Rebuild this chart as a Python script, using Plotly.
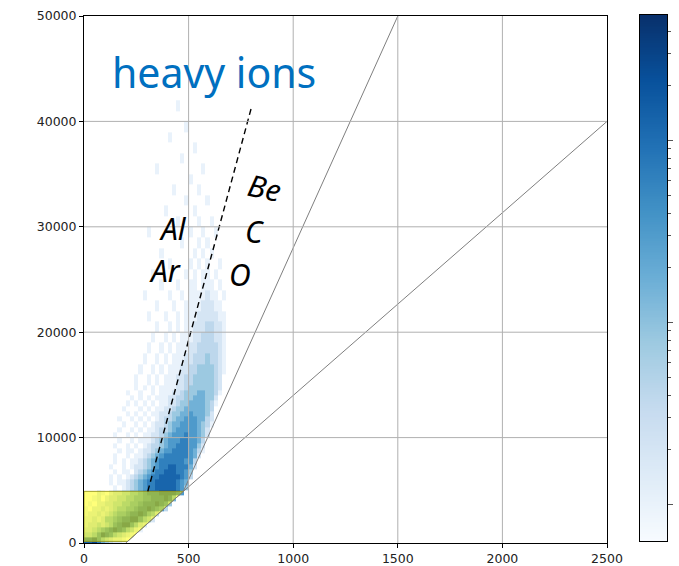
import numpy as np
import plotly.graph_objects as go
import plotly.colors as pc

# ---- 2D histogram of the heavy-ion population -------------------------------
# bin edges (ADC units); finer y bins in the dense low part
x_edges = list(range(0, 901, 20))
y_edges = list(range(0, 15001, 500)) + list(range(16000, 42001, 1000))

# one string per y row (bottom row first), columns grouped by 5 for readability
# '.' = empty bin, digit d -> log10(count) = 0.3 * (d - 1)
rows = [
    "88975 43221",
    "44579 87543 21",
    "33456 78987 5421",
    "23343 45789 97532",
    "22323 55678 89975 42",
    "12232 34566 78898 653",
    "1.223 23455 66788 98763",
    ".1.22 33445 56678 88987 4",
    "..12. 23344 55667 78889 85",
    "...21 .2334 45567 88899 9986",
    "..... ..1.1 23456 77888 88764",
    "..... .1.11 23456 77888 88765",
    "..... .1.1. 12345 67788 88876 3",
    "..... ..1.1 1.234 56778 88776 4",
    "..... .1..1 .1223 45677 88777 52",
    "..... ..1.1 .1123 45677 77776 63",
    "..... ..1.. 1.112 34567 77777 652",
    "..... ...1. 11.12 23456 67777 6531",
    "..... ..1.. 1.1.1 23345 66777 6642",
    "..... ...1. .1.11 12345 66677 6653",
    "..... ..1.. 1.1.1 12234 56667 66542",
    "..... ...1. .1.1. 11233 45666 66542",
    "..... ....1 ..1.1 .1223 45566 66543 1",
    "..... ...1. .1.1. 1.123 34556 66553 2",
    "..... ..... 1.1.1 .1122 34455 65554 2",
    "..... ....1 ...1. 1.112 23445 55554 3",
    "..... ..... 1.1.1 .1.11 22344 55554 31",
    "..... ..... .1.1. 1.111 22334 45554 42",
    "..... ..... 1..1. .1.11 12234 44554 431",
    "..... ..... ..1.1 .1.11 11223 44444 432",
    "..... ..... ..1.. 1.1.1 11223 34444 432",
    "..... ..... ...1. .1.1. 11122 33444 4321",
    "..... ..... ....1 ..1.1 .1112 23334 3321",
    "..... ..... ..... 1..1. 1.111 22333 3321",
    "..... ..... ..... .1..1 .1.11 12233 3221",
    "..... ..... ..... ..1.. 1.1.1 12223 3221",
    "..... ..... ..... 1...1 ..1.1 11222 2211",
    "..... ..... ..... ..1.. .1..1 11122 211",
    "..... ..... ....1 ..... 1..1. 11112 11.1",
    "..... ..... ..... ...1. ..1.. 11.11 1.1",
    "..... ..... ..... .1... ....1 .1.11 .1",
    "..... ..... ..... ..... 1.... 1.1.1 ..1",
    "..... ..... ..... ...1. ..... .1.1. 1",
    "..... ..... ..... ..... ...1. ..1.1",
    "..... ..... ..... 1.... ..... 1..1. .1",
    "..... ..... ..... ..... ..1.. ..1.. 1",
    "..... ..... ..... ....1 ..... .1",
    "..... ..... ..... ..... ....1 ....1",
    "..... ..... ..... ..... .1... ..1",
    "..... ..... ..... ..... ..... 1",
    "..... ..... ..... ..1.. ..... ...1",
    "..... ..... ..... ..... ...1",
    "..... ..... ..... ..... ..... .1",
    "..... ..... ..... ..... 1",
    "..... ..... ..... ..... ....1",
    "",
    "..... ..... ..... ..... ..1",
]

# ---- cut lines and region ---------------------------------------------------
steep_cut_x = [200, 475, 1500]
steep_cut_y = [0, 4900, 50000]
flat_cut_x = [475, 2500]
flat_cut_y = [4900, 40000]
dash_cut_x = [305, 800]
dash_cut_y = [4900, 41300]
low_box_x = [0, 208, 475, 0, 0]
low_box_y = [150, 150, 4900, 4900, 150]

# ---- labels -----------------------------------------------------------------
species = ["Al", "Ar", "Be", "C", "O"]
species_x = [426, 387, 865, 813, 746]
species_y = [29800, 25900, 33700, 29600, 25500]
species_angle = [0, 0, 12, 0, 0]

x_ticks = [0, 500, 1000, 1500, 2000, 2500]
y_ticks = [0, 10000, 20000, 30000, 40000, 50000]

# colour scale limits, log10(counts)
zmin, zmax = -0.2, 2.69
cbar_major = [1, 10, 100]
cbar_minor = [k * 10 ** n for n in range(3) for k in range(2, 10)
              if np.log10(k * 10 ** n) <= zmax]

ncols = len(x_edges) - 1


def row_levels(s):
    s = s.replace(" ", "").ljust(ncols, ".")[:ncols]
    return [np.nan if c == "." else 0.3 * (int(c) - 1) for c in s]


z = np.array([row_levels(r) for r in rows])
blues = pc.sequential.Blues

# ---- page geometry (pixels) -------------------------------------------------
W, H = 679, 566
ML, MR, MT, MB = 84, 12, 15, 23
paper_w = W - ML - MR          # main plot + colour bar
paper_h = H - MT - MB
main_w, main_h = 523, 527
cbar_x0, cbar_x1 = 640, 667
cbar_y0, cbar_y1 = 15, 541

fig = go.Figure()

fig.add_trace(go.Heatmap(
    x=x_edges, y=y_edges, z=z,
    colorscale=blues, zmin=zmin, zmax=zmax,
    showscale=False, hoverinfo="skip",
))

# translucent yellow box over the low-energy corner
fig.add_trace(go.Scatter(
    x=low_box_x, y=low_box_y, mode="lines", fill="toself",
    fillcolor="rgba(255,255,0,0.52)",
    line=dict(color="rgba(150,150,30,0.9)", width=1),
    showlegend=False, hoverinfo="skip",
))

fig.add_trace(go.Scatter(
    x=steep_cut_x, y=steep_cut_y, mode="lines",
    line=dict(color="#7f7f7f", width=1), showlegend=False, hoverinfo="skip",
))
fig.add_trace(go.Scatter(
    x=flat_cut_x, y=flat_cut_y, mode="lines",
    line=dict(color="#7f7f7f", width=1), showlegend=False, hoverinfo="skip",
))
fig.add_trace(go.Scatter(
    x=dash_cut_x, y=dash_cut_y, mode="lines",
    line=dict(color="black", width=1.4, dash="6px,4px"),
    showlegend=False, hoverinfo="skip",
))

# colour bar as a gradient strip on its own log axis
cb_edges = np.logspace(zmin, zmax, 301)
cb_mid = 0.5 * (np.log10(cb_edges[:-1]) + np.log10(cb_edges[1:]))
fig.add_trace(go.Heatmap(
    x=[0, 1], y=cb_edges, z=cb_mid.reshape(-1, 1),
    colorscale=blues, zmin=zmin, zmax=zmax,
    showscale=False, hoverinfo="skip",
    xaxis="x2", yaxis="y2",
))

# grid drawn over the histogram
grid_color = "#b0b0b0"
for gx in x_ticks[1:-1]:
    fig.add_shape(type="line", xref="x", yref="y", x0=gx, x1=gx,
                  y0=y_ticks[0], y1=y_ticks[-1],
                  line=dict(color=grid_color, width=1), layer="above")
for gy in y_ticks[1:-1]:
    fig.add_shape(type="line", xref="x", yref="y", x0=x_ticks[0], x1=x_ticks[-1],
                  y0=gy, y1=gy,
                  line=dict(color=grid_color, width=1), layer="above")

fig.add_annotation(
    x=124, y=44700, xref="x", yref="y", text="heavy ions", showarrow=False,
    xanchor="left", yanchor="middle",
    font=dict(family="Noto Sans", size=41, color="#0070C0"),
)
for name, sx, sy, ang in zip(species, species_x, species_y, species_angle):
    fig.add_annotation(
        x=sx, y=sy, xref="x", yref="y", text=f"<i>{name}</i>", showarrow=False,
        xanchor="center", yanchor="middle", textangle=ang,
        font=dict(family="Noto Sans", size=30, color="black"),
    )

tick_font = dict(family="DejaVu Sans", size=12.5, color="#222222")
axis_common = dict(
    tickmode="array", tickformat="d", showgrid=False, zeroline=False,
    showline=True, mirror=True, linecolor="black", linewidth=1,
    ticks="outside", ticklen=4, tickcolor="black", tickfont=tick_font,
    automargin=False,
)
fig.update_layout(
    width=W, height=H, autosize=False,
    margin=dict(l=ML, r=MR, t=MT, b=MB, pad=0, autoexpand=False),
    paper_bgcolor="white", plot_bgcolor="white",
    showlegend=False,
    xaxis=dict(axis_common, range=[0, 2500], tickvals=x_ticks,
               domain=[0, main_w / paper_w], anchor="y"),
    yaxis=dict(axis_common, range=[0, 50000], tickvals=y_ticks,
               domain=[0, main_h / paper_h], anchor="x"),
    xaxis2=dict(domain=[(cbar_x0 - ML) / paper_w, (cbar_x1 - ML) / paper_w],
                range=[0, 1], anchor="y2", showticklabels=False, ticks="",
                showgrid=False, zeroline=False, showline=True, mirror=True,
                linecolor="black", linewidth=1, fixedrange=True,
                automargin=False),
    yaxis2=dict(domain=[(H - MB - cbar_y1) / paper_h, (H - MB - cbar_y0) / paper_h],
                type="log", range=[zmin, zmax], anchor="x2", side="right",
                tickmode="array", tickvals=cbar_major, showticklabels=False,
                ticks="outside", ticklen=5, tickcolor="#555555",
                minor=dict(tickmode="array", tickvals=cbar_minor,
                           ticks="outside", ticklen=3, tickcolor="#555555",
                           showgrid=False),
                showgrid=False, zeroline=False, showline=True, mirror=True,
                linecolor="black", linewidth=1, fixedrange=True,
                automargin=False),
)

fig.write_html("out.html")
